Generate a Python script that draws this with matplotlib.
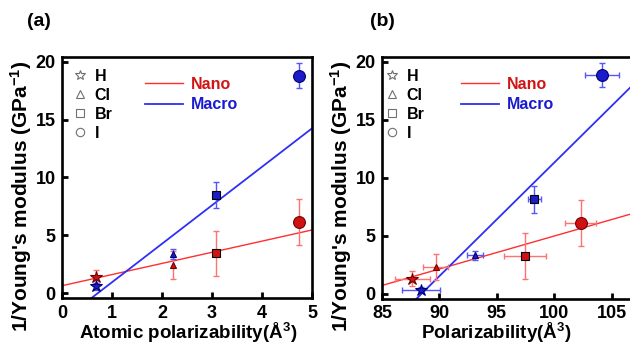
import matplotlib
matplotlib.use("Agg")
import matplotlib.pyplot as plt
from matplotlib.lines import Line2D
import numpy as np

plt.rcParams['font.family'] = ['Liberation Sans', 'DejaVu Sans']
plt.rcParams['font.weight'] = 'bold'
plt.rcParams['mathtext.fontset'] = 'custom'
plt.rcParams['mathtext.rm'] = 'Liberation Sans:bold'
plt.rcParams['mathtext.bf'] = 'Liberation Sans:bold'
plt.rcParams['mathtext.it'] = 'Liberation Sans:bold'

# ---------------- data ----------------
elements = ['H', 'Cl', 'Br', 'I']

# panel (a): atomic polarizability
atomic_pol = [0.67, 2.21, 3.07, 4.74]
nano_a = [1.44, 2.45, 3.46, 6.13]
nano_a_err = [0.58, 1.20, 1.94, 1.98]
macro_a = [0.60, 3.40, 8.49, 18.78]
macro_a_err = [0.30, 0.40, 1.08, 1.08]
fit_a_slope = {'Nano': 0.962, 'Macro': 3.32}
fit_a_intercept = {'Nano': 0.66, 'Macro': -2.36}

# panel (b): molecular polarizability
pol_nano_b = [87.64, 89.68, 97.46, 102.31]
pol_nano_b_err = [1.52, 1.09, 1.79, 1.35]
nano_b = [1.30, 2.30, 3.25, 6.10]
nano_b_err = [0.65, 1.12, 1.97, 2.00]
pol_macro_b = [88.40, 93.10, 98.27, 104.19]
pol_macro_b_err = [1.67, 0.72, 0.54, 1.49]
macro_b = [0.35, 3.31, 8.14, 18.84]
macro_b_err = [0.20, 0.40, 1.15, 1.06]
fit_b_slope = {'Nano': 0.2838, 'Macro': 0.977}
fit_b_intercept = {'Nano': -23.40, 'Macro': -86.40}

# ---------------- style ----------------
marker_of = {'H': '*', 'Cl': '^', 'Br': 's', 'I': 'o'}
msize_of = {'H': 9, 'Cl': 5, 'Br': 6, 'I': 8.5}
RED_FACE, RED_EDGE, RED_ERR, RED_LINE = '#d01212', '#700000', '#ff7272', '#ff2f2f'
BLUE_FACE, BLUE_EDGE, BLUE_ERR, BLUE_LINE = '#1c1cc8', '#000070', '#5555ff', '#2f2ff5'

W, H = 630, 344
fig = plt.figure(figsize=(W / 100, H / 100), dpi=100)

def px_axes(l, r, t, b):
    return fig.add_axes([l / W, 1 - b / H, (r - l) / W, (b - t) / H])

ax_a = px_axes(62, 312, 57, 298)
ax_b = px_axes(382, 645, 57, 298.5)


def draw_points(ax, xs, ys, yerr, xerr, face, edge, ecol):
    ax.errorbar(xs, ys, yerr=yerr, xerr=xerr, fmt='none', ecolor=ecol,
                elinewidth=1.0, capsize=2, capthick=1.0, zorder=3)
    for el, x, y in zip(elements, xs, ys):
        ec = 'black' if el == 'Br' else edge
        ax.plot(x, y, linestyle='none', marker=marker_of[el], ms=msize_of[el],
                mfc=face, mec=ec, mew=0.8, zorder=4)


def style_axes(ax, xlim, xticks):
    ax.set_xlim(*xlim)
    ax.set_ylim(-0.4, 20.4)
    ax.set_xticks(xticks)
    ax.set_yticks([0, 5, 10, 15, 20])
    for s in ax.spines.values():
        s.set_linewidth(1.9)
    ax.tick_params(direction='in', length=4, width=2, labelsize=13,
                   top=False, right=False)
    ax.tick_params(axis='y', pad=4.5)
    ax.tick_params(axis='x', pad=5)
    for lab in ax.get_xticklabels() + ax.get_yticklabels():
        lab.set_fontweight('bold')


def legends(ax, sym_anchor, line_anchor):
    handles = [Line2D([], [], linestyle='none', marker=marker_of[e],
                      ms={'H': 7, 'Cl': 5.5, 'Br': 5.5, 'I': 6}[e],
                      mfc='none', mec='#707070', mew=0.8) for e in elements]
    leg1 = ax.legend(handles, elements, loc='upper left',
                     bbox_to_anchor=sym_anchor, frameon=False,
                     prop={'size': 11.5, 'weight': 'bold'},
                     handlelength=0.8, handletextpad=0.55, labelspacing=0.26,
                     borderpad=0, borderaxespad=0)
    ax.add_artist(leg1)
    lh = [Line2D([], [], color=RED_LINE, lw=1.0),
          Line2D([], [], color=BLUE_LINE, lw=1.3)]
    ax.legend(lh, ['Nano', 'Macro'], loc='upper left',
              bbox_to_anchor=line_anchor, frameon=False,
              prop={'size': 11.5, 'weight': 'bold'},
              labelcolor=['#d01515', '#1a1ad0'],
              handlelength=2.4, handletextpad=0.5, labelspacing=0.34,
              borderpad=0, borderaxespad=0)


# ---------------- panel (a) ----------------
xa = np.linspace(0, 5, 50)
ax_a.plot(xa, fit_a_slope['Nano'] * xa + fit_a_intercept['Nano'],
          color=RED_LINE, lw=1.0, zorder=2)
ax_a.plot(xa, fit_a_slope['Macro'] * xa + fit_a_intercept['Macro'],
          color=BLUE_LINE, lw=1.3, zorder=2)
draw_points(ax_a, atomic_pol, nano_a, nano_a_err, None, RED_FACE, RED_EDGE, RED_ERR)
draw_points(ax_a, atomic_pol, macro_a, macro_a_err, None, BLUE_FACE, BLUE_EDGE, BLUE_ERR)
style_axes(ax_a, (0, 5), [0, 1, 2, 3, 4, 5])
legends(ax_a, (0.045, 0.952), (0.33, 0.918))

# ---------------- panel (b) ----------------
xb = np.linspace(85, 108, 50)
ax_b.plot(xb, fit_b_slope['Nano'] * xb + fit_b_intercept['Nano'],
          color=RED_LINE, lw=1.0, zorder=2)
ax_b.plot(xb, fit_b_slope['Macro'] * xb + fit_b_intercept['Macro'],
          color=BLUE_LINE, lw=1.3, zorder=2)
draw_points(ax_b, pol_nano_b, nano_b, nano_b_err, pol_nano_b_err, RED_FACE, RED_EDGE, RED_ERR)
draw_points(ax_b, pol_macro_b, macro_b, macro_b_err, pol_macro_b_err, BLUE_FACE, BLUE_EDGE, BLUE_ERR)
style_axes(ax_b, (85, 85 + (645 - 382) / 11.48), [85, 90, 95, 100, 105])
legends(ax_b, (0.012, 0.952), (0.30, 0.918))

# ---------------- labels ----------------
ylab = "1/Young's modulus (GPa$^{-1}$)"
fig.text(21 / W, 1 - 196 / H, ylab, rotation=90, ha='center', va='center',
         fontsize=15, fontweight='bold')
fig.text(341 / W, 1 - 196 / H, ylab, rotation=90, ha='center', va='center',
         fontsize=15, fontweight='bold')
fig.text(188 / W, 1 - 333 / H, 'Atomic polarizability(Å$^{3}$)', ha='center',
         va='center', fontsize=13.5, fontweight='bold')
fig.text(496 / W, 1 - 333 / H, 'Polarizability(Å$^{3}$)', ha='center',
         va='center', fontsize=13.5, fontweight='bold')
fig.text(39 / W, 1 - 22 / H, '(a)', ha='center', va='center', fontsize=14,
         fontweight='bold')
fig.text(382 / W, 1 - 22 / H, '(b)', ha='center', va='center', fontsize=14,
         fontweight='bold')

fig.savefig('out.png', dpi=100)
